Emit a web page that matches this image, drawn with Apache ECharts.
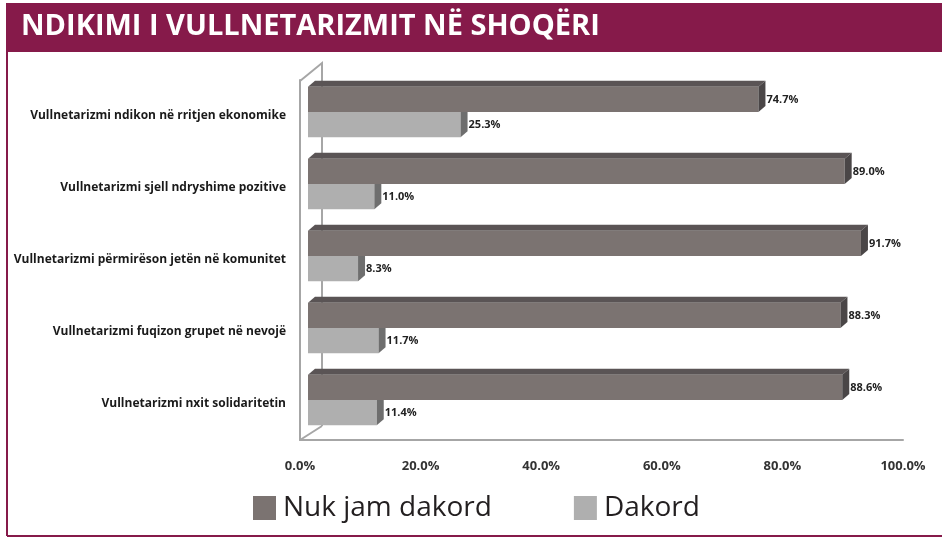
<!DOCTYPE html>
<html>
<head>
<meta charset="utf-8">
<script src="https://cdn.jsdelivr.net/npm/echarts@6/dist/echarts.min.js"></script>
<style>
  html, body { margin: 0; padding: 0; background: #fff; }
  #chart { width: 942px; height: 538px; }
</style>
</head>
<body>
<div id="chart"></div>
<script>
// data
const categories = [
  "Vullnetarizmi ndikon në rritjen ekonomike",
  "Vullnetarizmi sjell ndryshime pozitive",
  "Vullnetarizmi përmirëson jetën në komunitet",
  "Vullnetarizmi fuqizon grupet në nevojë",
  "Vullnetarizmi nxit solidaritetin"
];
const nukJamDakord = [74.7, 89.0, 91.7, 88.3, 88.6];
const dakord = [25.3, 11.0, 8.3, 11.7, 11.4];
const tickValues = [0, 20, 40, 60, 80, 100];

const FONT = "Open Sans";
const MAROON = "#861A4A";

// 3D bar drawn from the axis coordinates
function bar3d(front, top, side, above) {
  return function (params, api) {
    const v = api.value(0), c = api.value(1);
    const p0 = api.coord([0, c]);
    const p1 = api.coord([v, c]);
    const band = api.size([0, 1])[1];
    const h = band * 0.35;
    const dx = 7, dy = 6, shift = 8;
    const x0 = p0[0] + shift, x1 = p1[0] + shift;
    const y0 = above ? p0[1] - 4 - h : p0[1] - 4;
    return {
      type: "group",
      children: [
        { type: "polygon", shape: { points: [[x0, y0], [x1, y0], [x1 + dx, y0 - dy], [x0 + dx, y0 - dy]] }, style: { fill: top } },
        { type: "rect", shape: { x: x0, y: y0, width: x1 - x0, height: h }, style: { fill: front } },
        { type: "polygon", shape: { points: [[x1, y0], [x1 + dx, y0 - dy], [x1 + dx, y0 + h - dy], [x1, y0 + h]] }, style: { fill: side } },
        { type: "text", style: { text: v.toFixed(1) + "%", x: x1 + dx + 1, y: y0 + h / 2, verticalAlign: "middle", align: "left",
            fill: "#222", fontSize: 11, fontWeight: "bold", fontFamily: FONT } }
      ]
    };
  };
}

// back wall + floor edge of the 3D frame
function wall(params, api) {
  const cs = params.coordSys;
  const x = cs.x, y = cs.y, h = cs.height;
  const st = { stroke: "#A6A6A6", lineWidth: 2, fill: null };
  return {
    type: "group",
    children: [
      { type: "polyline", shape: { points: [[x, y + 1], [x + 22, y - 17], [x + 22, y + h - 14]] }, style: st },
      { type: "line", shape: { x1: x, y1: y + h, x2: x + 22, y2: y + h - 14 }, style: st }
    ]
  };
}

const chart = echarts.init(document.getElementById("chart"));
const option = {
  animation: false,
  backgroundColor: "#fff",
  graphic: [
    { type: "rect", left: 6, top: 3, shape: { width: 936, height: 49 }, style: { fill: MAROON }, z: 0 },
    { type: "text", x: 21, y: 27, style: { text: "NDIKIMI I VULLNETARIZMIT NË SHOQËRI", fill: "#fff",
        font: "bold 29px 'Open Sans'", verticalAlign: "middle" }, z: 1 },
    { type: "line", shape: { x1: 7, y1: 52, x2: 7, y2: 536 }, style: { stroke: MAROON, lineWidth: 2 } },
    { type: "line", shape: { x1: 7, y1: 536, x2: 942, y2: 536 }, style: { stroke: MAROON, lineWidth: 2 } }
  ],
  grid: { left: 300, right: 39, top: 80, bottom: 98 },
  legend: {
    bottom: 11,
    left: 248,
    itemWidth: 23,
    itemHeight: 24,
    itemGap: 82,
    icon: "rect",
    textStyle: { fontSize: 28, fontFamily: FONT, color: "#231F20", padding: [0, 0, 0, 2] },
    data: [
      { name: "Nuk jam dakord", itemStyle: { color: "#7B7371" } },
      { name: "Dakord", itemStyle: { color: "#AFAFAF" } }
    ]
  },
  xAxis: {
    type: "value",
    min: 0, max: 100, interval: 20,
    axisLine: { show: true, lineStyle: { color: "#A6A6A6", width: 2 } },
    axisTick: { show: false },
    splitLine: { show: false },
    axisLabel: {
      margin: 20,
      color: "#333",
      fontSize: 13,
      fontWeight: "bold",
      fontFamily: FONT,
      customValues: tickValues,
      formatter: (v) => v.toFixed(1) + "%"
    }
  },
  yAxis: {
    type: "category",
    inverse: true,
    data: categories,
    axisLine: { show: true, lineStyle: { color: "#A6A6A6", width: 2 } },
    axisTick: { show: false },
    axisLabel: { margin: 14, color: "#1a1a1a", fontSize: 12, fontWeight: "bold", fontFamily: FONT }
  },
  series: [
    {
      name: "wall", type: "custom", silent: true, z: 1,
      renderItem: wall, data: [[0, 0]]
    },
    {
      name: "Dakord", type: "custom", z: 2, silent: true,
      itemStyle: { color: "#AFAFAF" },
      renderItem: bar3d("#AFAFAF", "#8E8E8E", "#6E6E6E", false),
      encode: { x: 0, y: 1 },
      data: dakord.map((v, i) => [v, i])
    },
    {
      name: "Nuk jam dakord", type: "custom", z: 3, silent: true,
      itemStyle: { color: "#7B7371" },
      renderItem: bar3d("#7B7371", "#5A5455", "#4A4647", true),
      encode: { x: 0, y: 1 },
      data: nukJamDakord.map((v, i) => [v, i])
    }
  ]
};
chart.setOption(option);
</script>
</body>
</html>
